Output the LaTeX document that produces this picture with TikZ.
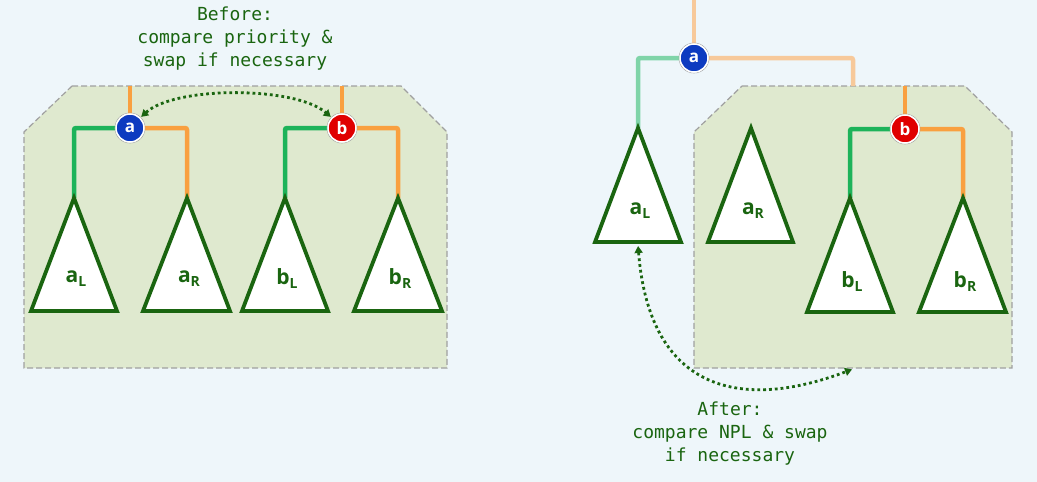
\documentclass[tikz,border=0pt]{standalone}
\usepackage{fontspec}
\setmonofont{DejaVu Sans Mono}
\setsansfont{Open Sans}
\usetikzlibrary{arrows.meta}
\definecolor{bgc}{HTML}{EEF6FA}
\definecolor{regc}{HTML}{DFE9CF}
\definecolor{regb}{HTML}{A0A0A0}
\definecolor{grn}{HTML}{1DB35A}
\definecolor{org}{HTML}{F9A040}
\definecolor{lgrn}{HTML}{7FD4A8}
\definecolor{lorg}{HTML}{F7C99A}
\definecolor{dgrn}{HTML}{1A6510}
\definecolor{bluen}{HTML}{0D3BC0}
\definecolor{redn}{HTML}{E00000}
\tikzset{
  region/.style={fill=regc, draw=regb, line width=1.2pt, dash pattern=on 6pt off 3pt},
  conn/.style={line width=4.5pt, rounded corners=2pt},
  gline/.style={conn, draw=grn},
  oline/.style={conn, draw=org},
  lgline/.style={conn, draw=lgrn},
  loline/.style={conn, draw=lorg},
  tri/.style={fill=white, draw=dgrn, line width=3.8pt, line join=miter},
  keynode/.style={circle, minimum size=28pt, inner sep=0pt, draw=white, line width=1.5pt,
    text=white, font=\sffamily\bfseries\fontsize{17}{17}\selectfont,
    append after command={\pgfextra{\draw[gray!70, line width=0.6pt] (\tikzlastnode) circle (15pt);}}},
  trilabel/.style={text=dgrn, font=\sffamily\bfseries\fontsize{21}{21}\selectfont, inner sep=0pt},
  caption/.style={text=dgrn, font=\ttfamily\fontsize{18}{23}\selectfont, align=center},
  swaparrow/.style={draw=dgrn, line width=2.8pt, dash pattern=on 2.8pt off 3pt,
    {Triangle[length=7pt,width=8pt]}-{Triangle[length=7pt,width=8pt]}, shorten <=1pt, shorten >=1pt}
}
\newcommand{\sublab}[2]{#1\raisebox{-4pt}{\fontsize{14}{14}\selectfont #2}}
\begin{document}
\begin{tikzpicture}[x=1pt,y=-1pt]
\useasboundingbox (0,0) rectangle (1037,482);
\fill[bgc] (0,0) rectangle (1037,482);

% ---------- left panel ----------
\draw[region] (72,86) -- (401,86) -- (447,132) -- (447,368) -- (24,368) -- (24,132) -- cycle;

\coordinate (LaTop) at (130,86);
\coordinate (LbTop) at (342,86);
\coordinate (LaC) at (130,128);
\coordinate (LbC) at (342,128);
\coordinate (LaL) at (74,198);
\coordinate (LaR) at (187,198);
\coordinate (LbL) at (285,198);
\coordinate (LbR) at (398,198);

\draw[oline] (LaTop) -- (LaC);
\draw[oline] (LbTop) -- (LbC);
\draw[gline] (LaC) -| (LaL);
\draw[oline] (LaC) -| (LaR);
\draw[gline] (LbC) -| (LbL);
\draw[oline] (LbC) -| (LbR);

\draw[tri] (LaL) -- (117,311) -- (31,311) -- cycle;
\draw[tri] (LaR) -- (230,311) -- (143,311) -- cycle;
\draw[tri] (LbL) -- (328,311) -- (242,311) -- cycle;
\draw[tri] (LbR) -- (442,311) -- (354,311) -- cycle;

\node[keynode, fill=bluen] (La) at (LaC) {a};
\node[keynode, fill=redn] (Lb) at (LbC) {b};

\node[trilabel] (tLaL) at (76,279) {\sublab{a}{L}};
\node[trilabel] (tLaR) at (189,279) {\sublab{a}{R}};
\node[trilabel] (tLbL) at (287,279) {\sublab{b}{L}};
\node[trilabel] (tLbR) at (400,279) {\sublab{b}{R}};

\draw[swaparrow] (La.north east) .. controls (175,86) and (295,86) .. (Lb.north west);

\node[caption] (before) at (235,39) {Before:\\compare priority \&\\swap if necessary};

% ---------- right panel ----------
\draw[region] (742,86) -- (965,86) -- (1012,132) -- (1012,368) -- (694,368) -- (694,132) -- cycle;

\coordinate (RaTop) at (694,0);
\coordinate (RaC) at (694,58);
\coordinate (RbTop) at (905,86);
\coordinate (RbC) at (905,129);
\coordinate (RaL) at (638,128);
\coordinate (RbIn) at (853,86);
\coordinate (RbL) at (850,198);
\coordinate (RbR) at (963,198);
\coordinate (RaR) at (751,128);

\draw[loline] (RaTop) -- (RaC);
\draw[lgline] (RaC) -| (RaL);
\draw[loline] (RaC) -| (RbIn);
\draw[oline] (RbTop) -- (RbC);
\draw[gline] (RbC) -| (RbL);
\draw[oline] (RbC) -| (RbR);

\draw[tri] (RaL) -- (681,242) -- (595,242) -- cycle;
\draw[tri] (RaR) -- (793,242) -- (708,242) -- cycle;
\draw[tri] (RbL) -- (893,312) -- (807,312) -- cycle;
\draw[tri] (RbR) -- (1006,312) -- (919,312) -- cycle;

\node[keynode, fill=bluen] (Ra) at (RaC) {a};
\node[keynode, fill=redn] (Rb) at (RbC) {b};

\node[trilabel] (tRaL) at (640,211) {\sublab{a}{L}};
\node[trilabel] (tRaR) at (753,211) {\sublab{a}{R}};
\node[trilabel] (tRbL) at (852,282) {\sublab{b}{L}};
\node[trilabel] (tRbR) at (965,282) {\sublab{b}{R}};

\coordinate (RaLbase) at (638,245);
\coordinate (RregBot) at (853,369);
\draw[swaparrow] (RaLbase) .. controls (650,395) and (745,410) .. (RregBot);

\node[caption] (after) at (730,434) {After:\\compare NPL \& swap\\if necessary};
\end{tikzpicture}
\end{document}
